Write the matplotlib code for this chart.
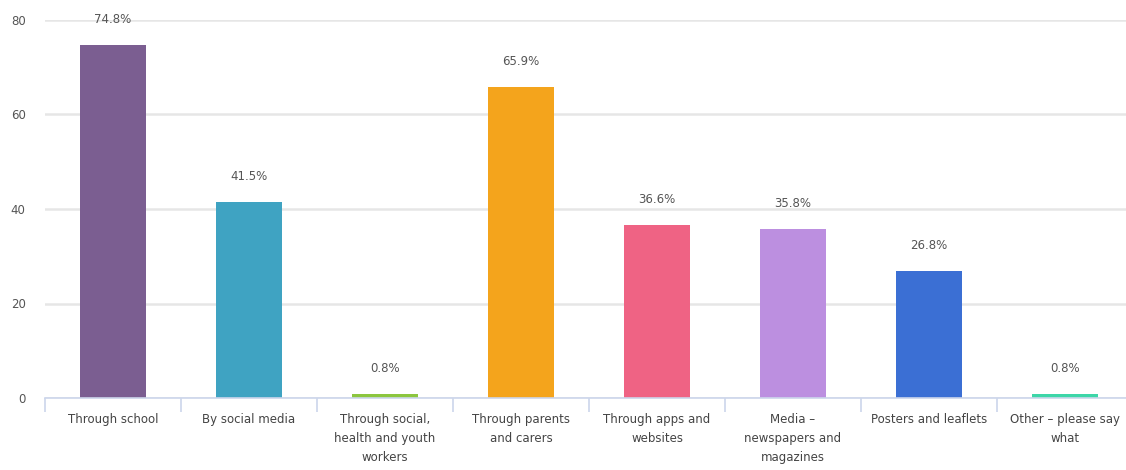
import matplotlib
matplotlib.use("Agg")
import matplotlib.pyplot as plt
import numpy as np

categories = ["Through school", "By social media", "Through social,\nhealth and youth\nworkers",
              "Through parents\nand carers", "Through apps and\nwebsites", "Media –\nnewspapers and\nmagazines",
              "Posters and leaflets", "Other – please say\nwhat"]
values = [74.8, 41.5, 0.8, 65.9, 36.6, 35.8, 26.8, 0.8]
colors = ["#7B5E91", "#3FA3C2", "#8CC63F", "#F4A41C", "#EF6384", "#BC8FE0", "#3B6FD4", "#3DD6A8"]
yticks = [0, 20, 40, 60, 80]

W, H = 1126, 470
fig = plt.figure(figsize=(W/100, H/100), dpi=100)
ax = fig.add_axes([45/W, 72/H, 1088/W, 378/H])

x = np.arange(len(categories))
ax.bar(x, values, width=0.49, color=colors, zorder=3)
ax.set_xlim(-0.5, len(categories) - 0.5)
ax.set_ylim(0, 80)

for xi, v in zip(x, values):
    ax.annotate(f"{v}%", (xi, v), xytext=(0, 19), textcoords="offset pixels",
                ha="center", va="bottom", fontsize=8.5, color="#555555", zorder=4)

ax.set_yticks(yticks)
ax.yaxis.grid(True, color="#e6e6e6", linewidth=1.8, zorder=0)
ax.tick_params(axis="y", length=0, pad=14, labelsize=8.5, labelcolor="#555555")

ax.set_xticks(x)
ax.set_xticklabels(categories, fontsize=8.5, color="#444444", linespacing=1.6, va="top")
ax.tick_params(axis="x", length=0, pad=11)
ax.set_xticks(np.arange(len(categories) + 1) - 0.5, minor=True)
ax.tick_params(axis="x", which="minor", length=10, color="#ccd6eb", width=1.2)

for s in ["top", "right", "left"]:
    ax.spines[s].set_visible(False)
ax.spines["bottom"].set_color("#ccd6eb")
ax.spines["bottom"].set_linewidth(1.2)
ax.spines["bottom"].set_zorder(4)

fig.savefig("out.png", dpi=100, facecolor="white")
